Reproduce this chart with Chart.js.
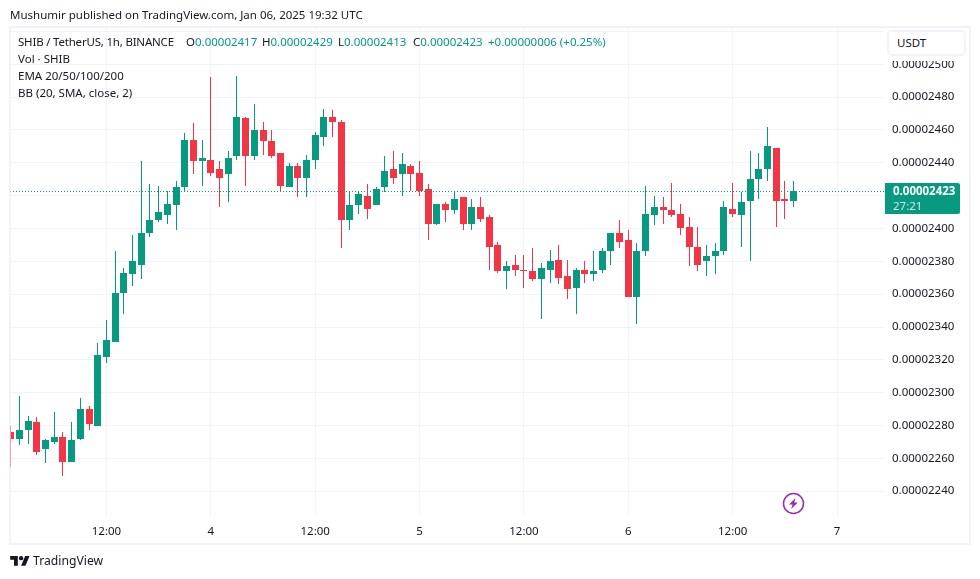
<!DOCTYPE html>
<html>
<head>
<meta charset="utf-8">
<title>SHIB / TetherUS</title>
<script src="https://cdn.jsdelivr.net/npm/chart.js@4/dist/chart.umd.min.js"></script>
<style>
  html, body { margin: 0; padding: 0; background: #fff; }
  body { width: 980px; height: 579px; position: relative; overflow: hidden; font-family: "Noto Sans", sans-serif; color: #131722; }
  canvas { position: absolute; left: 0; top: 0; }
  .txt { position: absolute; white-space: pre; font-size: 11.5px; line-height: 16px; }
  .up { color: #089981; }
  #frame { position: absolute; left: 9px; top: 26px; width: 958px; height: 515px; border: 2px solid rgba(230,235,247,.6); pointer-events: none; }
  #unitWrap { position: absolute; left: 886px; top: 29px; width: 82px; height: 32px; background: #fff; }
  #unit { position: absolute; left: 1px; top: 1px; width: 67px; height: 22px; border: 2px solid #f0f3fa; border-radius: 5px; font-size: 11.5px; line-height: 22px; padding-left: 8px; background: #fff; }
  #lastBox { position: absolute; left: 885px; top: 183px; width: 75px; height: 31px; background: #089981; border-radius: 0 2px 2px 0; color: #fff; font-size: 11.5px; line-height: 15px; }
  #lastBox div { padding-left: 8px; }
</style>
</head>
<body>
<canvas id="chart" width="980" height="579"></canvas>
<div id="frame"></div>
<div class="txt" style="left:10px;top:7px">Mushumir published on TradingView.com, Jan 06, 2025 19:32 UTC</div>
<div class="txt" style="left:18px;top:34px;letter-spacing:-.2px">SHIB / TetherUS, 1h, BINANCE</div>
<div class="txt" style="left:186px;top:34px">O<span class="up">0.00002417</span></div>
<div class="txt" style="left:262px;top:34px">H<span class="up">0.00002429</span></div>
<div class="txt" style="left:338px;top:34px">L<span class="up">0.00002413</span></div>
<div class="txt" style="left:413px;top:34px">C<span class="up">0.00002423</span></div>
<div class="txt up" style="left:488px;top:34px">+0.00000006 (+0.25%)</div>
<div class="txt" style="left:18px;top:51px">Vol · SHIB</div>
<div class="txt" style="left:18px;top:68px">EMA 20/50/100/200</div>
<div class="txt" style="left:18px;top:85px">BB (20, SMA, close, 2)</div>
<div id="unitWrap"><div id="unit">USDT</div></div>
<div id="lastBox"><div style="font-weight:700">0.00002423</div><div style="color:#cdebe6">27:21</div></div>
<svg style="position:absolute;left:10px;top:556px" width="20" height="12" viewBox="0 0 36 22">
  <path fill="#131722" d="M14 18H7V7H0V0h14v18zM28 18h-8L27.5 0h8L28 18z"/><circle fill="#131722" cx="20" cy="4" r="4"/>
</svg>
<div class="txt" style="left:33px;top:552px;font-size:12.2px;line-height:18px">TradingView</div>
<svg style="position:absolute;left:782px;top:492px" width="23" height="23" viewBox="0 0 23 23">
  <circle cx="11.5" cy="11.5" r="10" fill="#fff" stroke="#9c27b0" stroke-width="1.5"/>
  <path fill="#9c27b0" d="M13.5 6 7 12.5h3.6L9.2 17l6.6-6.6h-3.6z"/>
</svg>
<script>
// prices are in units of 0.00000001 USDT
const opens = [2276,2272,2277,2282,2266,2270,2273,2258,2272,2290,
  2280,2322,2331,2361,2372,2378,2397,2405,2408,2414,
  2425,2454,2441,2442,2436,2433,2444,2467,2444,2460,
  2453,2446,2425,2438,2431,2442,2456,2468,2465,2405,
  2414,2420,2414,2425,2436,2433,2438,2434,2424,2403,
  2415,2411,2419,2403,2413,2407,2390,2374,2378,2375,
  2374,2369,2375,2381,2371,2364,2375,2372,2375,2386,
  2397,2393,2358,2386,2408,2413,2411,2409,2401,2389,
  2380,2383,2386,2412,2408,2417,2430,2436,2449,2418,2417];
const closes = [2272,2277,2283,2264,2271,2273,2258,2271,2290,2281,
  2323,2332,2361,2373,2380,2397,2405,2410,2415,2425,
  2454,2441,2443,2434,2431,2443,2468,2444,2460,2453,
  2444,2426,2438,2431,2442,2457,2468,2465,2405,2414,
  2421,2412,2424,2435,2431,2439,2433,2423,2403,2415,
  2411,2418,2403,2413,2406,2389,2374,2377,2375,2374,
  2369,2376,2380,2370,2363,2375,2372,2374,2386,2397,
  2392,2358,2386,2409,2413,2411,2408,2400,2389,2378,
  2383,2386,2413,2409,2416,2430,2436,2450,2417,2417,2423];
const highs = [2280,2298,2286,2285,2272,2288,2276,2282,2297,2292,
  2330,2344,2386,2376,2396,2441,2427,2426,2423,2429,
  2458,2464,2454,2492,2441,2447,2493,2468,2476,2465,
  2460,2446,2440,2440,2445,2459,2473,2472,2466,2423,
  2423,2427,2425,2444,2447,2446,2439,2441,2427,2415,
  2416,2423,2419,2418,2419,2408,2392,2380,2384,2384,
  2388,2379,2387,2390,2381,2376,2380,2386,2388,2397,
  2405,2399,2391,2426,2420,2419,2428,2415,2407,2401,
  2390,2391,2417,2428,2422,2447,2446,2462,2449,2429,2429];
const lows = [2255,2268,2269,2262,2257,2269,2249,2258,2271,2277,
  2280,2318,2331,2348,2365,2369,2395,2404,2403,2399,
  2422,2433,2426,2432,2413,2416,2442,2426,2442,2445,
  2443,2422,2425,2419,2419,2436,2450,2456,2388,2399,
  2409,2406,2414,2422,2427,2420,2423,2420,2393,2402,
  2404,2409,2399,2399,2404,2375,2373,2363,2371,2364,
  2368,2345,2367,2366,2357,2348,2367,2368,2373,2378,
  2388,2358,2342,2383,2402,2403,2407,2396,2377,2374,
  2371,2372,2384,2407,2389,2380,2418,2429,2401,2406,2413];
const lastPrice = 2423;

// candle index of each time label, first candle is Jan 3 01:00
const timeTicks = [11, 23, 35, 47, 59, 71, 83, 95];
const timeLabels = ['12:00', '4', '12:00', '5', '12:00', '6', '12:00', '7'];
const priceTicks = [2240, 2260, 2280, 2300, 2320, 2340, 2360, 2380, 2400, 2420, 2440, 2460, 2480, 2500, 2520];

const UP = '#089981';
const DOWN = '#f23645';
const GRID = '#f2f3f7';
const candleColors = closes.map((c, i) => (c >= opens[i] ? UP : DOWN));
const tickFont = { family: '"Noto Sans", sans-serif', size: 11.5 };

// TradingView draws candles on whole pixels, do the same so wicks stay 1px sharp
const snapToPixels = {
  id: 'snapToPixels',
  afterDatasetsUpdate(chart) {
    chart.getSortedVisibleDatasetMetas().forEach(meta => {
      meta.data.forEach(el => {
        if (meta.type === 'bar') {
          el.x = Math.floor(el.x) + 0.5;
          el.y = Math.round(el.y);
          el.base = Math.round(el.base);
        } else {
          el.x = Math.round(el.x);
          el.y = Math.round(el.y) + 0.5;
        }
      });
    });
  }
};

new Chart(document.getElementById('chart'), {
  type: 'bar',
  data: {
    datasets: [
      {
        type: 'line',
        data: [{ x: -0.1, y: lastPrice }, { x: 100.4, y: lastPrice }],
        borderColor: UP,
        borderWidth: 1,
        borderDash: [1, 2],
        pointRadius: 0,
        order: 0
      },
      {
        data: opens.map((o, i) => ({ x: i, y: [Math.min(o, closes[i]), Math.max(o, closes[i])] })),
        backgroundColor: candleColors,
        maxBarThickness: 7,
        order: 1
      },
      {
        data: opens.map((o, i) => ({ x: i, y: [lows[i], highs[i]] })),
        backgroundColor: candleColors,
        maxBarThickness: 1,
        order: 2
      }
    ]
  },
  options: {
    responsive: false,
    animation: false,
    events: [],
    grouped: false,
    inflateAmount: 0,
    barPercentage: 1,
    categoryPercentage: 1,
    layout: { padding: { left: 10, top: 28, right: 10, bottom: 35 } },
    plugins: { legend: { display: false }, tooltip: { enabled: false } },
    scales: {
      x: {
        type: 'linear',
        min: -0.092,
        max: 100.4,
        offset: false,
        grid: { color: GRID, drawTicks: false, offset: false },
        border: { display: false },
        afterBuildTicks: s => { s.ticks = timeTicks.map(v => ({ value: v })); },
        afterFit: s => { s.height = 28; },
        ticks: {
          autoSkip: false,
          maxRotation: 0,
          padding: 9,
          color: '#131722',
          font: tickFont,
          callback: (v, i) => timeLabels[i]
        }
      },
      y: {
        position: 'right',
        min: 2224.9,
        max: 2522.1,
        grid: { color: GRID, drawTicks: false },
        border: { display: false },
        afterBuildTicks: s => { s.ticks = priceTicks.map(v => ({ value: v })); },
        afterFit: s => { s.width = 86; },
        ticks: {
          autoSkip: false,
          padding: 8,
          color: '#131722',
          font: tickFont,
          callback: v => (v > 2500 ? '' : (v / 1e8).toFixed(8))
        }
      }
    }
  },
  plugins: [snapToPixels]
});
</script>
</body>
</html>
